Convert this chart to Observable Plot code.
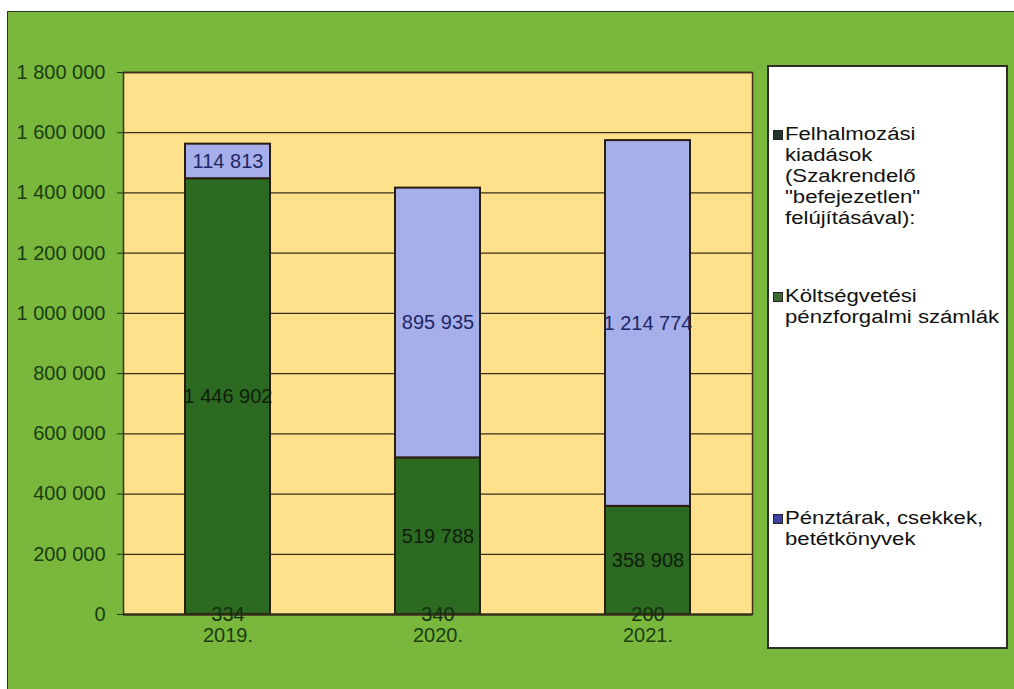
<!DOCTYPE html>
<html>
<head>
<meta charset="utf-8">
<script src="https://cdn.jsdelivr.net/npm/d3@7"></script>
<script src="https://cdn.jsdelivr.net/npm/@observablehq/plot@0.6"></script>
<style>
  html, body { margin: 0; padding: 0; background: #ffffff; width: 1014px; height: 689px; overflow: hidden; }
  #frame { position: absolute; left: 7px; top: 11px; width: 1012px; height: 684px; background: #79b83c; border-left: 1.5px solid #2a3a22; border-top: 1.5px solid #2a3a22; }
  #chart { position: absolute; left: 0; top: 0; }
  #legend { position: absolute; left: 767px; top: 65px; width: 237px; height: 580px; background: #ffffff; border: 2px solid #2d2f2a; font-family: "Liberation Sans", Arial, sans-serif; color: #111; }
  .entry { position: absolute; left: 4px; }
  .sw { position: absolute; left: 0; width: 8px; height: 8px; border: 1px solid #222; }
  .txt { position: absolute; left: 12px; font-size: 18px; line-height: 21px; white-space: nowrap; transform: scaleX(1.23); transform-origin: left center; }
</style>
</head>
<body>
<div id="frame"></div>
<div id="chart"></div>
<div id="legend"></div>
<script>
const years = ["2019.", "2020.", "2021."];
const seriesNames = [
  "Felhalmozási kiadások (Szakrendelő \"befejezetlen\" felújításával):",
  "Költségvetési pénzforgalmi számlák",
  "Pénztárak, csekkek, betétkönyvek"
];
const felhalmozasi = [334, 340, 200];
const koltsegvetesi = [1446902, 519788, 358908];
const penztarak = [114813, 895935, 1214774];
const yTicks = [0, 200000, 400000, 600000, 800000, 1000000, 1200000, 1400000, 1600000, 1800000];

const barColors = ["#1d3320", "#2c6a22", "#a7afea"];
const labelColors = ["#14300f", "#0f1d0c", "#1d2766"];
const swatchColors = ["#24352a", "#3f6a35", "#3a44a0"];

const seriesValues = [felhalmozasi, koltsegvetesi, penztarak];
const rows = [];
seriesNames.forEach((s, si) => {
  years.forEach((y, yi) => rows.push({year: y, series: s, si, value: seriesValues[si][yi]}));
});

const fmt = d3.formatLocale({thousands: " ", grouping: [3], decimal: ","}).format(",");

const plot = Plot.plot({
  width: 760,
  height: 689,
  marginLeft: 123,
  marginRight: 8,
  marginTop: 72,
  marginBottom: 75,
  style: {background: "transparent", fontFamily: "\"Liberation Sans\", Arial, sans-serif", fontSize: "20px", color: "#1a3d12"},
  x: {domain: years, paddingInner: 0.595, paddingOuter: 0.295, label: null, tickSize: 0, tickPadding: 13},
  y: {domain: [0, 1800000], ticks: yTicks, tickFormat: fmt, label: null, tickSize: 6, tickPadding: 12},
  color: {type: "identity"},
  marks: [
    Plot.frame({fill: "#fde28b", stroke: null}),
    Plot.ruleY(yTicks, {stroke: "#3a2f1c", strokeWidth: 1.3}),
    Plot.barY(rows, {x: "year", y: "value", z: "series", fill: d => barColors[d.si], stroke: "#2a1d10", strokeWidth: 2}),
    Plot.ruleY([0], {stroke: "#2a2a18", strokeWidth: 2}),
    Plot.frame({stroke: "#3a2f1c", strokeWidth: 1.5, fill: null}),
    Plot.text(rows, Plot.stackY({x: "year", y: "value", z: "series", text: d => fmt(d.value), fill: d => labelColors[d.si], fontSize: 20}))
  ]
});
document.getElementById("chart").appendChild(plot);

// legend
const legend = document.getElementById("legend");
const entries = [
  {lines: ["Felhalmozási", "kiadások", "(Szakrendelő", "\"befejezetlen\"", "felújításával):"], top: 57},
  {lines: ["Költségvetési", "pénzforgalmi számlák"], top: 219},
  {lines: ["Pénztárak, csekkek,", "betétkönyvek"], top: 441}
];
entries.forEach((e, i) => {
  const div = document.createElement("div");
  div.className = "entry";
  div.style.top = e.top + "px";
  const sw = document.createElement("div");
  sw.className = "sw";
  sw.style.top = "6px";
  sw.style.background = swatchColors[i];
  div.appendChild(sw);
  const t = document.createElement("div");
  t.className = "txt";
  t.style.top = "0px";
  t.innerHTML = e.lines.map(l => l.replace(/&/g, "&amp;")).join("<br>");
  div.appendChild(t);
  legend.appendChild(div);
});
</script>
</body>
</html>
